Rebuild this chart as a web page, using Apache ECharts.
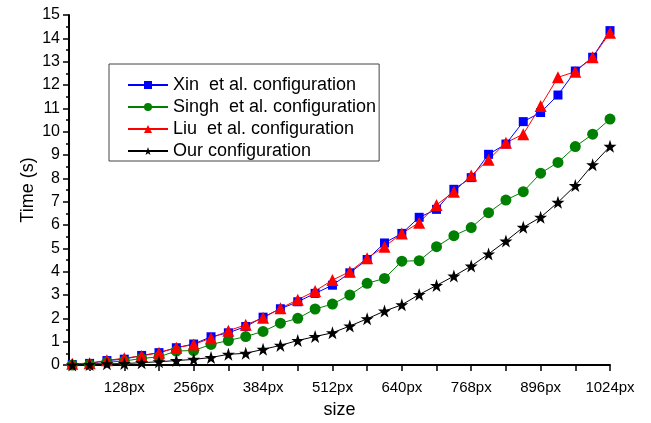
<!DOCTYPE html>
<html>
<head>
<meta charset="utf-8">
<script src="https://cdn.jsdelivr.net/npm/echarts@6/dist/echarts.min.js"></script>
<style>
  html, body { margin: 0; padding: 0; background: #fff; }
  #chart { width: 651px; height: 423px; }
</style>
</head>
<body>
<div id="chart"></div>
<script>
// image sizes (px) on the x axis
var sizes = [32, 64, 96, 128, 160, 192, 224, 256, 288, 320, 352, 384, 416, 448, 480, 512,
             544, 576, 608, 640, 672, 704, 736, 768, 800, 832, 864, 896, 928, 960, 992, 1024];
var xTicks = [64, 128, 192, 256, 320, 384, 448, 512, 576, 640, 704, 768, 832, 896, 960, 1024];
var xLabels = [128, 256, 384, 512, 640, 768, 896, 1024];

var xinTime = [0.02, 0.07, 0.19, 0.25, 0.41, 0.53, 0.74, 0.90, 1.21, 1.38, 1.65, 2.05, 2.41, 2.71, 3.07, 3.42,
               3.95, 4.52, 5.23, 5.64, 6.33, 6.67, 7.53, 8.03, 9.03, 9.47, 10.43, 10.82, 11.57, 12.60, 13.19, 14.33];
var singhTime = [0.00, 0.02, 0.12, 0.17, 0.28, 0.35, 0.60, 0.62, 0.88, 1.05, 1.22, 1.44, 1.79, 2.00, 2.40, 2.61,
                 3.00, 3.50, 3.71, 4.45, 4.47, 5.07, 5.54, 5.89, 6.53, 7.07, 7.43, 8.22, 8.68, 9.36, 9.89, 10.54];
var liuTime = [0.05, 0.08, 0.20, 0.29, 0.39, 0.53, 0.74, 0.88, 1.15, 1.47, 1.72, 2.02, 2.43, 2.80, 3.17, 3.64,
               4.00, 4.58, 5.07, 5.64, 6.10, 6.86, 7.43, 8.12, 8.80, 9.53, 9.89, 11.10, 12.33, 12.57, 13.19, 14.24];
var ourTime = [0.00, 0.02, 0.05, 0.06, 0.10, 0.14, 0.19, 0.24, 0.32, 0.46, 0.50, 0.67, 0.84, 1.05, 1.22, 1.38,
               1.67, 1.98, 2.31, 2.58, 3.02, 3.41, 3.81, 4.24, 4.76, 5.31, 5.90, 6.33, 6.97, 7.69, 8.58, 9.37];

var starPath = 'path://M50,0 L61.8,35.1 L98.9,35.1 L69.1,57 L80.2,91.9 L50,70.5 L19.8,91.9 L30.9,57 L1.1,35.1 L38.2,35.1 Z';
var font = 'Liberation Sans, Arial, sans-serif';

function pairs(vals){
    return sizes.map(function(s, i){ return [s, vals[i]] })
}

function makeSeries(name, vals, color, symbol, size){
    return {
        name: name,
        type: 'line',
        data: pairs(vals),
        symbol: symbol,
        symbolSize: size,
        lineStyle: { color: color, width: 1 },
        itemStyle: { color: color },
        animation: false
    }
}

var myChart = echarts.init(document.getElementById('chart'))
var option = {
    backgroundColor: '#fff',
    grid: { left: 69, right: 41, top: 15, bottom: 58, containLabel: false, outerBoundsMode: 'none' },
    legend: {
        orient: 'vertical',
        left: 109,
        top: 64,
        padding: [12, 3, 1, 18],
        itemGap: 4,
        itemWidth: 40,
        itemHeight: 10,
        borderColor: '#444',
        borderWidth: 1,
        textStyle: { fontFamily: font, fontSize: 18, color: '#000', lineHeight: 18 },
        data: ['Xin  et al. configuration', 'Singh  et al. configuration', 'Liu  et al. configuration', 'Our configuration']
    },
    xAxis: {
        type: 'value',
        min: 26,
        max: 1024,
        name: 'size',
        nameLocation: 'middle',
        nameGap: 36,
        nameMoveOverlap: false,
        nameTextStyle: { fontFamily: font, fontSize: 18, color: '#000' },
        axisLine: { lineStyle: { color: '#000', width: 2 } },
        axisTick: { show: true, length: 6, customValues: xTicks, lineStyle: { color: '#000', width: 1.5 } },
        axisLabel: {
            customValues: xLabels,
            margin: 15,
            fontFamily: font,
            fontSize: 15,
            color: '#000',
            formatter: function(v){ return v + 'px' }
        },
        splitLine: { show: false }
    },
    yAxis: {
        type: 'value',
        min: 0,
        max: 15,
        interval: 1,
        name: 'Time (s)',
        nameLocation: 'middle',
        nameGap: 32,
        nameMoveOverlap: false,
        nameTextStyle: { fontFamily: font, fontSize: 18, color: '#000' },
        axisLine: { show: true, lineStyle: { color: '#000', width: 2 } },
        axisTick: { show: true, length: 6, lineStyle: { color: '#000', width: 1.5 } },
        minorTick: { show: true, splitNumber: 2, length: 3, lineStyle: { color: '#000', width: 1.5 } },
        axisLabel: { margin: 9, fontFamily: font, fontSize: 16, color: '#000' },
        splitLine: { show: false }
    },
    series: [
        makeSeries('Xin  et al. configuration', xinTime, '#0000ff', 'rect', 9),
        makeSeries('Singh  et al. configuration', singhTime, '#008000', 'circle', 11),
        makeSeries('Liu  et al. configuration', liuTime, '#ff0000', 'triangle', 12),
        makeSeries('Our configuration', ourTime, '#000000', starPath, 13)
    ]
}
option && myChart.setOption(option)
</script>
</body>
</html>
